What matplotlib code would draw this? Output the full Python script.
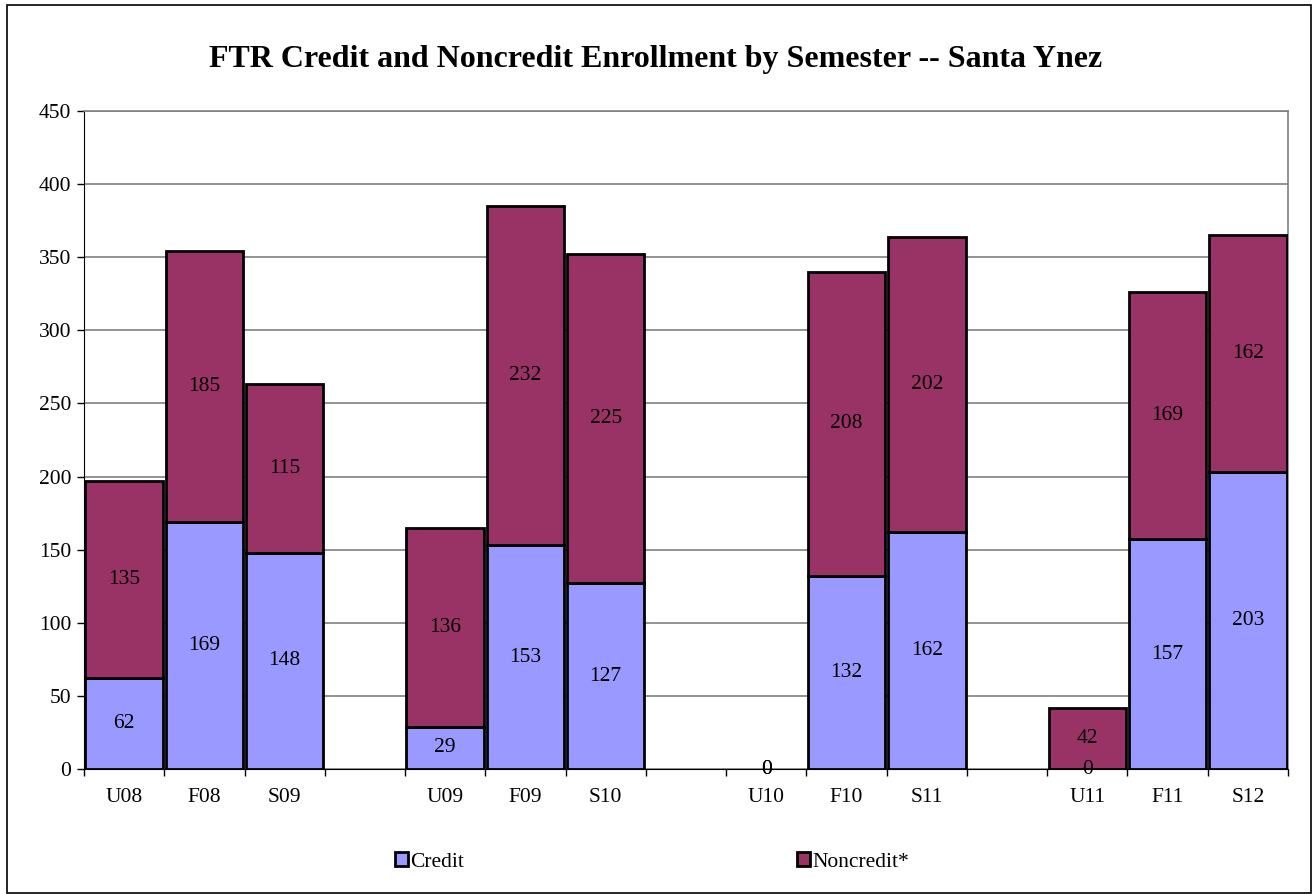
import numpy as np
import matplotlib.pyplot as plt
from matplotlib.patches import Rectangle

# semesters, with blank slots between years
semesters = ['U08', 'F08', 'S09', '', 'U09', 'F09', 'S10', '',
             'U10', 'F10', 'S11', '', 'U11', 'F11', 'S12']
credit = [62, 169, 148, None, 29, 153, 127, None,
          0, 132, 162, None, 0, 157, 203]
noncredit = [135, 185, 115, None, 136, 232, 225, None,
             0, 208, 202, None, 42, 169, 162]

plt.rcParams['font.family'] = ['Liberation Serif', 'DejaVu Serif']

fig = plt.figure(figsize=(13.12, 8.94), dpi=100)
ax = fig.add_axes([0.0640, 0.1398, 0.9177, 0.7360])

# outer chart border
fig.patches.append(Rectangle((0.005, 0.001), 0.994, 0.993, transform=fig.transFigure,
                             fill=False, edgecolor='black', linewidth=1.2))

x = np.arange(len(semesters))
idx = [i for i, s in enumerate(semesters) if s]
cr = np.array([credit[i] for i in idx])
nc = np.array([noncredit[i] for i in idx])
xs = x[idx]

w = 0.965
# zero-height bars get no outline
ax.bar(xs, cr, width=w, color='#9999FF', linewidth=2, label='Credit', zorder=3,
       edgecolor=['black' if v > 0 else 'none' for v in cr])
ax.bar(xs, nc, width=w, bottom=cr, color='#993366', linewidth=2, label='Noncredit*', zorder=3,
       edgecolor=['black' if v > 0 else 'none' for v in nc])

fs = 15.5
for xi, c, n in zip(xs, cr, nc):
    ax.text(xi, c / 2, str(c), ha='center', va='center', fontsize=fs, zorder=4)
    ax.text(xi, c + n / 2, str(n), ha='center', va='center', fontsize=fs, zorder=4)

ax.set_xlim(-0.5, len(semesters) - 0.5)
ax.set_ylim(0, 450)
ax.set_yticks(np.arange(0, 451, 50))
ax.set_xticks(x)
ax.set_xticklabels(semesters, fontsize=fs)
ax.set_xticks(np.arange(-0.5, len(semesters), 1), minor=True)
ax.tick_params(axis='x', which='major', length=0, pad=14)
ax.tick_params(axis='x', which='minor', length=5, width=1, direction='out', color='black')
ax.tick_params(axis='y', length=5, width=1, direction='out', labelsize=fs, pad=4)

ax.grid(axis='y', color='#808080', linewidth=1.2, zorder=0)
ax.spines['top'].set_color('#808080')
ax.spines['right'].set_color('#808080')
ax.spines['top'].set_linewidth(1.2)
ax.spines['right'].set_linewidth(1.2)
ax.spines['left'].set_color('black')
ax.spines['bottom'].set_color('black')

fig.text(0.5, 0.933, 'FTR Credit and Noncredit Enrollment by Semester -- Santa Ynez',
         ha='center', va='center', fontsize=23, fontweight='bold')

fig.legend(loc='center', bbox_to_anchor=(0.497, 0.036), ncol=2, frameon=False,
           fontsize=fs, handlelength=0.6, handleheight=0.6, handletextpad=0.1,
           columnspacing=15.5)

fig.savefig('out.png', dpi=100)
